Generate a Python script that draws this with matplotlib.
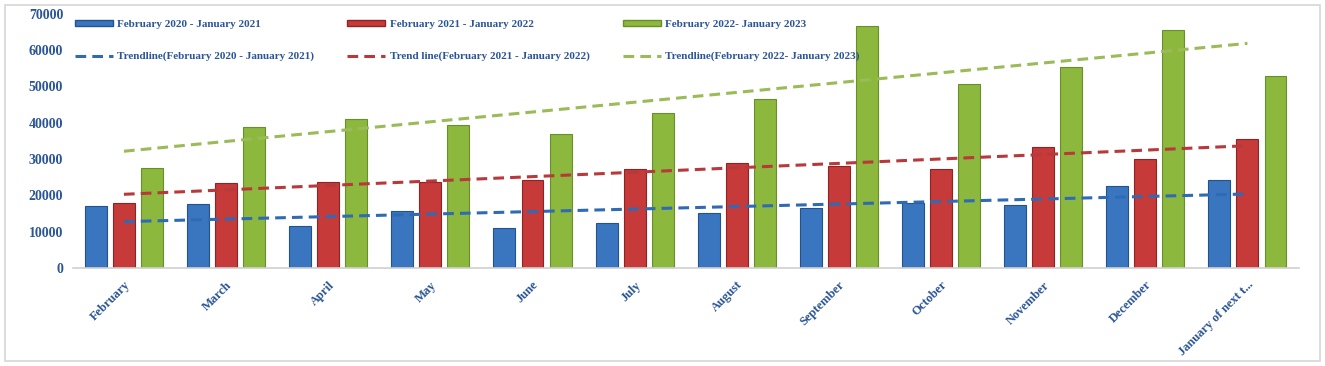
import matplotlib.pyplot as plt
import numpy as np
from matplotlib.patches import Patch, Rectangle
from matplotlib.lines import Line2D

months = ['February', 'March', 'April', 'May', 'June', 'July', 'August',
          'September', 'October', 'November', 'December', 'January of next t...']
series_labels = ['February 2020 - January 2021', 'February 2021 - January 2022',
                 'February 2022- January 2023']
trend_labels = ['Trendline(February 2020 - January 2021)',
                'Trend line(February 2021 - January 2022)',
                'Trendline(February 2022- January 2023)']
y2020 = [17000, 17500, 11500, 15600, 11000, 12500, 15000, 16500, 18000, 17200, 22700, 24300]
y2021 = [18000, 23500, 23800, 23800, 24200, 27300, 29000, 28200, 27300, 33200, 30000, 35500]
y2022 = [27500, 38800, 41000, 39500, 36800, 42600, 46500, 66700, 50700, 55500, 65600, 53000]

bar_colors = ['#3a76c0', '#c63a3a', '#8cb83e']
edge_colors = ['#24528c', '#8e2424', '#6a8f2a']
trend_colors = ['#2f6ab5', '#b8393b', '#9bbb59']
text_color = '#2b5596'

fig = plt.figure(figsize=(13.25, 3.66), dpi=100, facecolor='white')
fig.patches.append(Rectangle((0.004, 0.015), 0.992, 0.97, transform=fig.transFigure,
                             fill=False, edgecolor='#d6d6d6', linewidth=1.2))
ax = fig.add_axes([0.055, 0.268, 0.925, 0.694])

x = np.arange(len(months))
w = 0.215
step = 0.275
for i, vals in enumerate([y2020, y2021, y2022]):
    ax.bar(x + (i - 1) * step, vals, width=w, color=bar_colors[i],
           edgecolor=edge_colors[i], linewidth=0.8, zorder=2)
    coef = np.polyfit(x, vals, 1)
    ax.plot(x, np.polyval(coef, x), linestyle=(0, (3.5, 2)), color=trend_colors[i],
            linewidth=2.2, zorder=3)

ax.set_xlim(-0.5, 11.5)
ax.set_ylim(0, 70000)
ax.set_yticks(np.arange(0, 70001, 10000))
ax.set_xticks(x)
ax.set_xticklabels(months, rotation=45, ha='right', va='top', rotation_mode='anchor',
                   fontsize=9, fontweight='bold', family='Liberation Serif', color=text_color)
for lab in ax.get_yticklabels():
    lab.set_fontsize(10)
    lab.set_fontweight('bold')
    lab.set_family('Liberation Serif')
    lab.set_color(text_color)
ax.tick_params(axis='x', length=0, pad=8)
ax.tick_params(axis='y', length=0, pad=7)
for s in ['top', 'right', 'left']:
    ax.spines[s].set_visible(False)
ax.spines['bottom'].set_color('#d0d0d0')
ax.spines['bottom'].set_linewidth(1.2)

handles = []
labels = []
for i in range(3):
    handles.append(Patch(facecolor=bar_colors[i], edgecolor=edge_colors[i]))
    labels.append(series_labels[i])
    handles.append(Line2D([0], [0], color=trend_colors[i], linestyle=(0, (3.5, 2)), linewidth=2.2))
    labels.append(trend_labels[i])
leg = ax.legend(handles, labels, ncol=3, loc='upper left', bbox_to_anchor=(-0.003, 0.998),
                frameon=False, borderpad=0, handlelength=3.4, handleheight=0.45,
                handletextpad=0.4, columnspacing=3.0, labelspacing=2.05,
                prop={'family': 'Liberation Serif', 'weight': 'bold', 'size': 8})
for t in leg.get_texts():
    t.set_color(text_color)

fig.savefig('out.png', dpi=100, facecolor='white')
